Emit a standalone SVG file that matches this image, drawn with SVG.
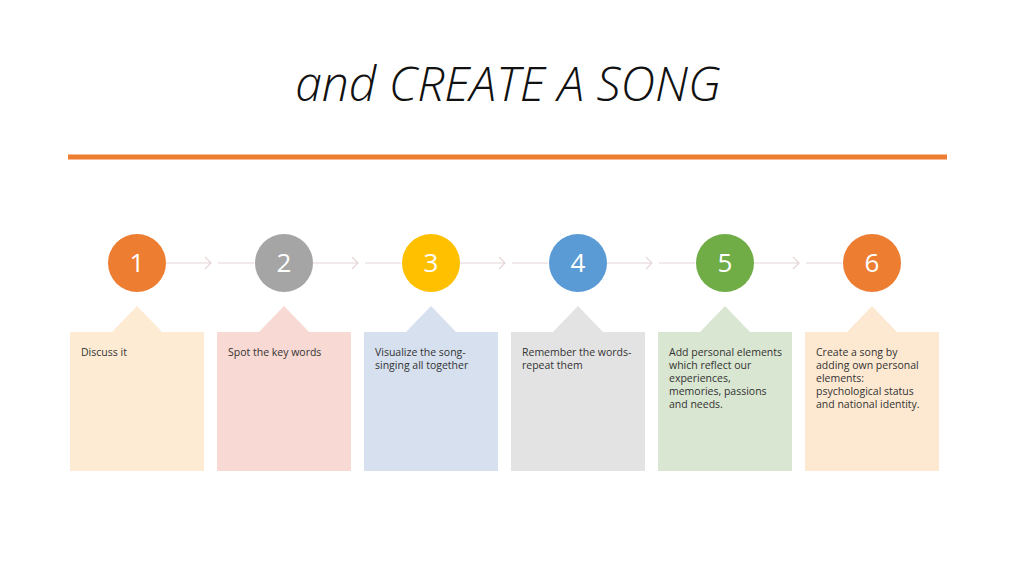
<svg xmlns="http://www.w3.org/2000/svg" width="1024" height="576" viewBox="0 0 1024 576">
<style>
.t{font-family:"Open Sans","Liberation Sans",sans-serif;font-size:10.5px;fill:#333}
.n{font-family:"Open Sans","Liberation Sans",sans-serif;font-size:26px;fill:#fff;text-anchor:middle}
.c{stroke:#e6d6d6;stroke-width:1.2;fill:none}
</style>
<rect width="1024" height="576" fill="#fff"/>
<text x="508" y="101" text-anchor="middle" font-family="'Open Sans','Liberation Sans',sans-serif" font-style="italic" font-weight="300" font-size="48" fill="#111">and CREATE A SONG</text>
<rect x="68" y="154.5" width="879" height="5" fill="#ED7D31"/>
<g id="connectors">
<path class="c" d="M166 263H210M205 257l6 6-6 6M218 263H254"/>
<path class="c" d="M313 263H357M352 257l6 6-6 6M365 263H401"/>
<path class="c" d="M460 263H504M499 257l6 6-6 6M512 263H548"/>
<path class="c" d="M607 263H651M646 257l6 6-6 6M659 263H695"/>
<path class="c" d="M754 263H798M793 257l6 6-6 6M806 263H842"/>
</g>
<g id="n1"><circle cx="137" cy="263" r="29" fill="#ED7D31"/><text class="n" x="137" y="272">1</text>
<path d="M70 332H112L137 306L162 332H204V471H70Z" fill="#FDEBD3"/><text class="t" x="81" y="356">Discuss it</text></g>
<g id="n2"><circle cx="284" cy="263" r="29" fill="#A5A5A5"/><text class="n" x="284" y="272">2</text>
<path d="M217 332H259L284 306L309 332H351V471H217Z" fill="#F8D9D3"/><text class="t" x="228" y="356">Spot the key words</text></g>
<g id="n3"><circle cx="431" cy="263" r="29" fill="#FFC000"/><text class="n" x="431" y="272">3</text>
<path d="M364 332H406L431 306L456 332H498V471H364Z" fill="#D6E0EF"/><text class="t" x="375" y="356">Visualize the song-<tspan x="375" dy="13">singing all together</tspan></text></g>
<g id="n4"><circle cx="578" cy="263" r="29" fill="#5B9BD5"/><text class="n" x="578" y="272">4</text>
<path d="M511 332H553L578 306L603 332H645V471H511Z" fill="#E3E3E3"/><text class="t" x="522" y="356">Remember the words-<tspan x="522" dy="13">repeat them</tspan></text></g>
<g id="n5"><circle cx="725" cy="263" r="29" fill="#70AD47"/><text class="n" x="725" y="272">5</text>
<path d="M658 332H700L725 306L750 332H792V471H658Z" fill="#D9E6D1"/><text class="t" x="669" y="356">Add personal elements<tspan x="669" dy="13">which reflect our</tspan><tspan x="669" dy="13">experiences,</tspan><tspan x="669" dy="13">memories, passions</tspan><tspan x="669" dy="13">and needs.</tspan></text></g>
<g id="n6"><circle cx="872" cy="263" r="29" fill="#ED7D31"/><text class="n" x="872" y="272">6</text>
<path d="M805 332H847L872 306L897 332H939V471H805Z" fill="#FDE9D2"/><text class="t" x="816" y="356">Create a song by<tspan x="816" dy="13">adding own personal</tspan><tspan x="816" dy="13">elements:</tspan><tspan x="816" dy="13">psychological status</tspan><tspan x="816" dy="13">and national identity.</tspan></text></g>
</svg>
